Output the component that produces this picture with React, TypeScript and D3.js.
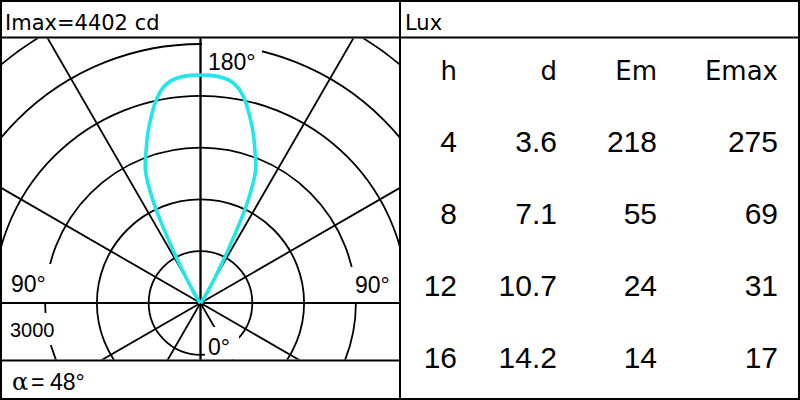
import React from "react";
import * as d3 from "d3";

// Luminous intensity (cd) against angle from the beam axis (deg); symmetric beam
const beamAngles = [0, 2.5, 5, 7.5, 10, 12.5, 15, 17.5, 20, 22.5, 25, 27.5, 30, 32.5, 35, 40, 45, 50, 60, 90, 120, 150, 180];
const intensities = [4402, 4398, 4380, 4330, 4210, 3990, 3700, 3400, 3080, 2780, 2150, 1150, 500, 250, 120, 40, 15, 0, 0, 0, 0, 0, 0];

const iMax = 4402;
const halfAngle = 48;
const gridValues = [1000, 2000, 3000, 4000, 5000, 6000];
const spokeAngles = [0, 30, 60, 90, 120, 150];

// Illuminance table
const tableHeaders = ["h", "d", "Em", "Emax"];
const heights = ["4", "8", "12", "16"];
const diameters = ["3.6", "7.1", "10.7", "14.2"];
const emValues = ["218", "55", "24", "14"];
const emaxValues = ["275", "69", "31", "17"];

const W = 800;
const H = 400;
const cx = 200.5;
const cy = 303;
const plot = { x0: 2, x1: 399, y0: 38.5, y1: 359.5 };

const sans = "'Liberation Sans', Arial, sans-serif";
const wide = "'DejaVu Sans', Verdana, sans-serif";

export default function App() {
  const r = d3.scaleLinear().domain([0, 1000]).range([0, 51.8]);

  const profile = [
    ...beamAngles.map((a, i) => ({ a: -a, v: intensities[i] })).reverse(),
    ...beamAngles.slice(1).map((a, i) => ({ a, v: intensities[i + 1] })),
  ];
  const curve = d3
    .lineRadial<{ a: number; v: number }>()
    .angle((d) => (d.a * Math.PI) / 180)
    .radius((d) => r(d.v))
    .curve(d3.curveCatmullRom.alpha(0.5));

  const spokeLen = 600;
  const spoke = (deg: number) => {
    const t = (deg * Math.PI) / 180;
    return {
      x1: cx - Math.sin(t) * spokeLen,
      y1: cy + Math.cos(t) * spokeLen,
      x2: cx + Math.sin(t) * spokeLen,
      y2: cy - Math.cos(t) * spokeLen,
    };
  };

  const colRight = [457, 557, 657, 778];
  const rowY = d3.scalePoint<string>().domain(["head", ...heights]).range([80, 368]);
  const columns = [heights, diameters, emValues, emaxValues];

  return (
    <svg width={W} height={H} style={{ position: "absolute", left: 0, top: 0, background: "#fff" }}>
      <defs>
        <clipPath id="plotClip">
          <rect x={plot.x0} y={plot.y0} width={plot.x1 - plot.x0} height={plot.y1 - plot.y0} />
        </clipPath>
      </defs>
      <rect x={0} y={0} width={W} height={H} fill="#fff" />

      <g clipPath="url(#plotClip)">
        {gridValues.map((v) => (
          <circle key={v} cx={cx} cy={cy} r={r(v)} fill="none" stroke="#000" strokeWidth={1.8} />
        ))}
        {spokeAngles.map((a) => {
          const s = spoke(a);
          return <line key={a} {...s} stroke="#000" strokeWidth={1.8} />;
        })}

        {/* label backgrounds */}
        <rect x={202} y={39} width={60} height={37} fill="#fff" />
        <rect x={2} y={264} width={49} height={38} fill="#fff" />
        <rect x={349} y={267} width={50} height={35} fill="#fff" />
        <rect x={4} y={313} width={54} height={32} fill="#fff" />
        <rect x={205} y={327} width={34} height={33} fill="#fff" />

        <line x1={0} y1={cy} x2={400} y2={cy} stroke="#000" strokeWidth={1.8} />
        <line x1={cx} y1={0} x2={cx} y2={400} stroke="#000" strokeWidth={1.8} />

        <path
          d={curve(profile) ?? ""}
          transform={`translate(${cx},${cy})`}
          fill="none"
          stroke="#22e6e8"
          strokeWidth={3.6}
          strokeLinejoin="round"
        />
      </g>

      <g fontFamily={sans} fontSize={23} fill="#000">
        <text x={208} y={70}>180°</text>
        <text x={11} y={292}>90°</text>
        <text x={355} y={292.5}>90°</text>
        <text x={208} y={355}>0°</text>
        <text x={10} y={337} fontSize={20}>{String(gridValues[2])}</text>
        <text y={390}>
          <tspan x={12} fontFamily="'DejaVu Serif', serif" fontSize={24}>α</tspan>
          <tspan x={31}>=</tspan>
          <tspan x={50}>{`${halfAngle}°`}</tspan>
        </text>
      </g>

      <text x={5} y={30} fontFamily={wide} fontSize={21}>{`Imax=${iMax} cd`}</text>
      <text x={405} y={30} fontFamily={wide} fontSize={21}>Lux</text>

      <g fontFamily={wide} fontSize={26} textAnchor="end">
        {tableHeaders.map((h, i) => (
          <text key={h} x={colRight[i]} y={rowY("head")}>{h}</text>
        ))}
      </g>
      <g fontFamily={sans} fontSize={30} textAnchor="end">
        {columns.map((col, ci) =>
          col.map((v, ri) => (
            <text key={`${ci}-${ri}`} x={colRight[ci]} y={rowY(heights[ri])}>{v}</text>
          ))
        )}
      </g>

      {/* frame */}
      <rect x={1} y={1} width={798} height={398} fill="none" stroke="#000" strokeWidth={2} />
      <line x1={0} y1={37.5} x2={800} y2={37.5} stroke="#000" strokeWidth={2} />
      <line x1={400} y1={0} x2={400} y2={400} stroke="#000" strokeWidth={2} />
      <line x1={0} y1={360.5} x2={400} y2={360.5} stroke="#000" strokeWidth={2} />
    </svg>
  );
}
